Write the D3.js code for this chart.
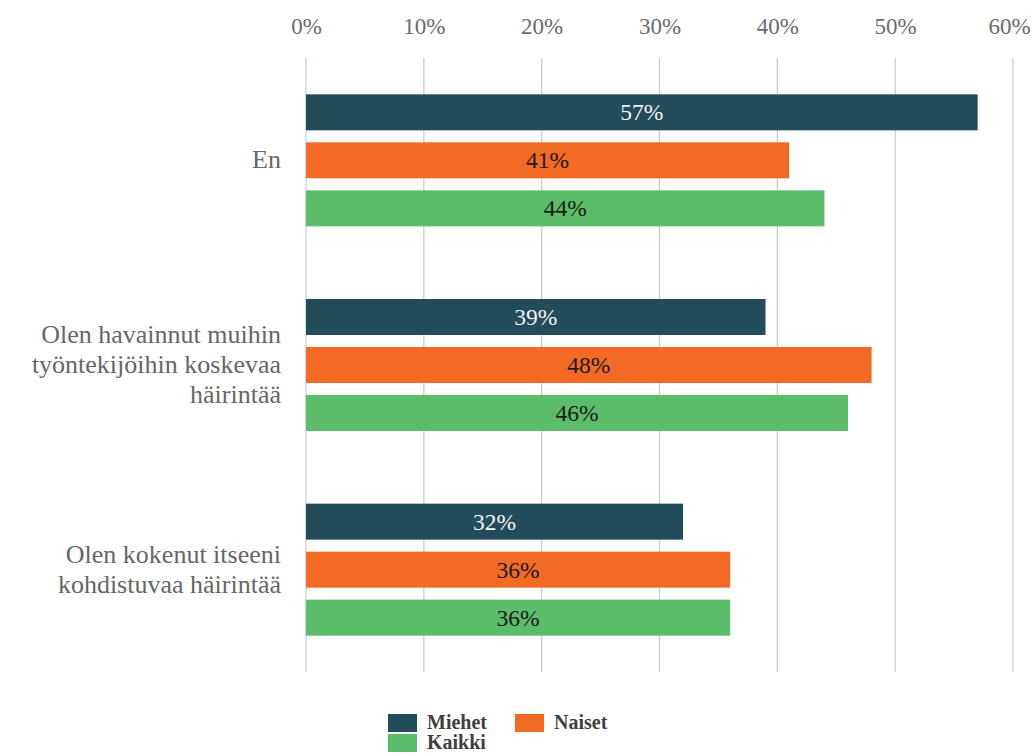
<!DOCTYPE html>
<html>
<head>
<meta charset="utf-8">
<script src="https://cdn.jsdelivr.net/npm/d3@7"></script>
<style>
  html, body { margin: 0; padding: 0; background: #fff; }
</style>
</head>
<body>
<svg id="chart" width="1032" height="754"></svg>
<script>
// Categories (each label split into lines) and series values in percent
const categories = ["En", "Olen havainnut muihin työntekijöihin koskevaa häirintää", "Olen kokenut itseeni kohdistuvaa häirintää"];
const categoryLines = [
  ["En"],
  ["Olen havainnut muihin", "työntekijöihin koskevaa", "häirintää"],
  ["Olen kokenut itseeni", "kohdistuvaa häirintää"]
];
const seriesNames = ["Miehet", "Naiset", "Kaikki"];
const miehet = [57, 39, 32];
const naiset = [41, 48, 36];
const kaikki = [44, 46, 36];
const tickValues = [0, 10, 20, 30, 40, 50, 60];

const seriesValues = [miehet, naiset, kaikki];
const colors = ["#234c5b", "#f26a24", "#5bbd6a"];
const labelColors = ["#f2f2f2", "#1a1a1a", "#1a1a1a"];
const serif = '"Liberation Serif", "Times New Roman", Times, serif';

const svg = d3.select("#chart");
const plot = { left: 306, right: 1013, top: 58, bottom: 672 };

const x = d3.scaleLinear().domain([0, 60]).range([plot.left, plot.right]);
const y = d3.scaleBand().domain(categories).range([plot.top, plot.bottom]);
const inner = d3.scaleBand().domain(seriesNames).range([0, 132]).paddingInner(0.25).paddingOuter(0);

// Vertical gridlines
svg.append("g")
  .selectAll("line")
  .data(tickValues)
  .join("line")
  .attr("x1", d => x(d)).attr("x2", d => x(d))
  .attr("y1", plot.top).attr("y2", plot.bottom)
  .attr("stroke", d => d === 0 ? "#c3d0e4" : "#cccccc")
  .attr("stroke-width", 1.3);

// Top axis tick labels
const axis = d3.axisTop(x).tickValues(tickValues).tickFormat(d => d + "%").tickSize(0);
const axisG = svg.append("g").attr("transform", "translate(0,37)").call(axis);
axisG.select(".domain").remove();
axisG.selectAll("text")
  .style("font-family", serif)
  .style("font-size", "23px")
  .attr("fill", "#6b6b6b")
  .attr("dy", 0)
  .attr("dx", (d, i, n) => i === n.length - 1 ? -4 : 0);

// Bars
const groups = svg.append("g")
  .selectAll("g")
  .data(categories)
  .join("g")
  .attr("transform", d => `translate(0,${y(d) + (y.bandwidth() - 132) / 2})`);

groups.each(function(cat, ci) {
  const g = d3.select(this);
  seriesNames.forEach((s, si) => {
    const v = seriesValues[si][ci];
    g.append("rect")
      .attr("x", x(0))
      .attr("y", inner(s))
      .attr("width", x(v) - x(0))
      .attr("height", inner.bandwidth())
      .attr("fill", colors[si]);
    g.append("text")
      .attr("x", x(0) + (x(v) - x(0)) / 2)
      .attr("y", inner(s) + inner.bandwidth() / 2 + 8)
      .attr("text-anchor", "middle")
      .style("font-family", serif)
      .style("font-size", "23.5px")
      .attr("fill", labelColors[si])
      .text(v + "%");
  });
});

// Category labels
svg.append("g")
  .selectAll("text")
  .data(categories)
  .join("text")
  .attr("text-anchor", "end")
  .style("font-family", serif)
  .style("font-size", "26px")
  .attr("fill", "#666666")
  .each(function(d, i) {
    const lines = categoryLines[i];
    const lh = 30;
    const cy = y(d) + y.bandwidth() / 2;
    const start = cy - (lines.length - 1) * lh / 2 + 8;
    d3.select(this).selectAll("tspan")
      .data(lines)
      .join("tspan")
      .attr("x", 281)
      .attr("y", (l, j) => start + j * lh)
      .text(l => l);
  });

// Legend
const legendItems = [
  { name: "Miehet", color: colors[0], x: 388, y: 714 },
  { name: "Naiset", color: colors[1], x: 515, y: 714 },
  { name: "Kaikki", color: colors[2], x: 388, y: 734 }
];
const legend = svg.append("g")
  .selectAll("g")
  .data(legendItems)
  .join("g")
  .attr("transform", d => `translate(${d.x},${d.y})`);
legend.append("rect").attr("width", 29).attr("height", 18).attr("fill", d => d.color);
legend.append("text")
  .attr("x", 39).attr("y", 15)
  .style("font-family", serif)
  .style("font-size", "20px")
  .style("font-weight", "bold")
  .attr("fill", "#404040")
  .text(d => d.name);
</script>
</body>
</html>
